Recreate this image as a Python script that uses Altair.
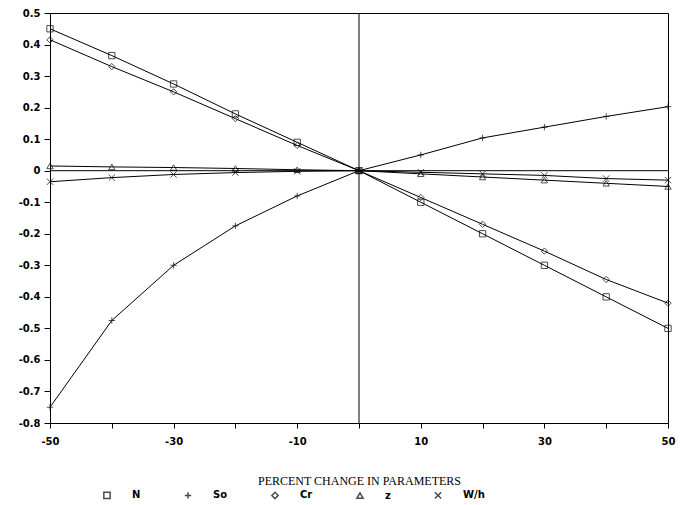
import altair as alt
import pandas as pd

pct = [-50, -40, -30, -20, -10, 0, 10, 20, 30, 40, 50]
n_vals = [0.45, 0.365, 0.275, 0.18, 0.09, 0.0, -0.10, -0.20, -0.30, -0.40, -0.50]
so_vals = [-0.75, -0.475, -0.30, -0.175, -0.08, 0.0, 0.05, 0.104, 0.138, 0.172, 0.203]
cr_vals = [0.415, 0.33, 0.25, 0.165, 0.08, 0.0, -0.085, -0.17, -0.255, -0.345, -0.42]
z_vals = [0.015, 0.012, 0.01, 0.007, 0.003, 0.0, -0.01, -0.02, -0.03, -0.04, -0.05]
wh_vals = [-0.035, -0.022, -0.012, -0.006, -0.002, 0.0, -0.005, -0.01, -0.015, -0.025, -0.03]

series_names = ["N", "So", "Cr", "z", "W/h"]
series_vals = [n_vals, so_vals, cr_vals, z_vals, wh_vals]
shapes = ["square", "M-1,0L1,0M0,-1L0,1", "diamond", "triangle-up", "M-1,-1L1,1M-1,1L1,-1"]

rows = []
for name, vals in zip(series_names, series_vals):
    for p, v in zip(pct, vals):
        rows.append({"pct": p, "value": v, "param": name})
df = pd.DataFrame(rows)

x_axis = alt.Axis(
    values=list(range(-50, 51, 10)),
    labelExpr="datum.value % 20 != 0 ? replace(datum.label, '\u2212', '-') : ''",
    title="PERCENT CHANGE IN PARAMETERS",
    titleFont="Liberation Serif",
    titleFontSize=12,
    titleFontWeight="normal",
    titlePadding=29,
    grid=False,
    tickSize=5,
    labelPadding=8,
    labelFlush=False,
    labelOverlap=False,
)
y_axis = alt.Axis(
    values=[round(-0.8 + 0.1 * i, 1) for i in range(14)],
    format=".1~f",
    labelExpr="replace(datum.label, '\u2212', '-')",
    title=None,
    grid=False,
    tickSize=6,
    labelPadding=4,
    labelFlush=False,
    labelOverlap=False,
)
x_scale = alt.Scale(domain=[-50, 50], nice=False, zero=False)
y_scale = alt.Scale(domain=[-0.8, 0.5], nice=False, zero=False)

x_enc = alt.X("pct:Q", scale=x_scale, axis=x_axis)
y_enc = alt.Y("value:Q", scale=y_scale, axis=y_axis)

lines = alt.Chart(df).mark_line(color="black", strokeWidth=1).encode(
    x=x_enc, y=y_enc, detail="param:N"
)
points = alt.Chart(df).mark_point(filled=False, color="black", size=40, strokeWidth=1).encode(
    x=x_enc,
    y=y_enc,
    shape=alt.Shape(
        "param:N",
        scale=alt.Scale(domain=series_names, range=shapes),
        legend=alt.Legend(
            title=None,
            orient="none",
            direction="horizontal",
            legendX=52,
            legendY=477,
            labelOffset=20,
            columnPadding=40,
            symbolStrokeColor="black",
            symbolFillColor="transparent",
            symbolSize=40,
            labelFont="DejaVu Sans",
            labelFontWeight="bold",
            labelFontSize=10,
        ),
    ),
)

vrule = alt.Chart(pd.DataFrame({"pct": [0]})).mark_rule(color="black", strokeWidth=1).encode(
    x=alt.X("pct:Q", scale=x_scale, axis=x_axis)
)
hrule = alt.Chart(pd.DataFrame({"value": [0]})).mark_rule(color="black", strokeWidth=1).encode(
    y=alt.Y("value:Q", scale=y_scale, axis=y_axis)
)

chart = (
    alt.layer(lines, points, vrule, hrule)
    .properties(
        width=618,
        height=410,
        autosize=alt.AutoSizeParams(type="none"),
        padding={"left": 42, "top": 5, "right": 10, "bottom": 78},
        background="white",
    )
    .configure_view(stroke="black", strokeWidth=1)
    .configure_axis(
        domainColor="black",
        tickColor="black",
        labelColor="black",
        titleColor="black",
        labelFont="DejaVu Sans",
        labelFontWeight="bold",
        labelFontSize=10,
    )
)

chart.save("out.html", embed_options={"renderer": "svg", "actions": False})
